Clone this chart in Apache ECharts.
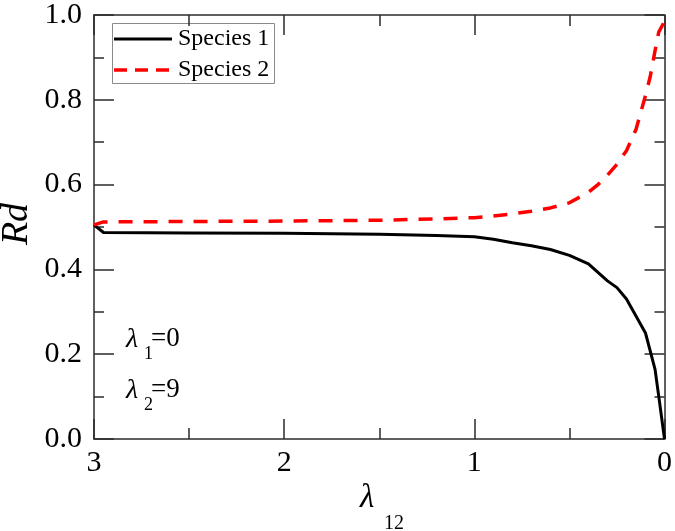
<!DOCTYPE html>
<html>
<head>
<meta charset="utf-8">
<script src="https://cdn.jsdelivr.net/npm/echarts@6/dist/echarts.min.js"></script>
<style>html,body{margin:0;padding:0;background:#fff}#c{width:675px;height:531px}</style>
</head>
<body>
<div id="c"></div>
<script>
var seriesNames = ['Species 1', 'Species 2'];
var s1X = [3.0, 2.95, 2.5, 2.0, 1.5, 1.2, 1.0, 0.9, 0.8, 0.7, 0.6, 0.5, 0.4, 0.3, 0.25, 0.2, 0.15, 0.1, 0.05, 0.03, 0.0];
var s1Y = [0.505, 0.487, 0.486, 0.485, 0.483, 0.480, 0.477, 0.471, 0.463, 0.456, 0.447, 0.433, 0.413, 0.373, 0.357, 0.33, 0.29, 0.25, 0.165, 0.10, 0.0];
var s2X = [3.0, 2.95, 2.5, 2.0, 1.5, 1.2, 1.0, 0.9, 0.8, 0.7, 0.6, 0.5, 0.4, 0.35, 0.3, 0.25, 0.2, 0.15, 0.1, 0.075, 0.05, 0.03, 0.0];
var s2Y = [0.505, 0.512, 0.513, 0.514, 0.516, 0.519, 0.522, 0.526, 0.531, 0.537, 0.545, 0.557, 0.582, 0.600, 0.622, 0.648, 0.68, 0.73, 0.81, 0.855, 0.915, 0.96, 0.985];
var xTicks = ['0', '1', '2', '3'];
var yTicks = ['0.0', '0.2', '0.4', '0.6', '0.8', '1.0'];

function zip(xs, ys) { return xs.map(function (x, i) { return [x, ys[i]]; }); }

var FONT = 'Liberation Serif';
var AX = '#2b2b2b';
var S1_COLOR = '#000';
var S2_COLOR = '#f00';
var S2_DASH = [14, 11];

function xAxisDef(pos, showLabel) {
  return {
    type: 'value', position: pos, min: 0, max: 3, interval: 1, inverse: true,
    axisLine: { show: true, onZero: false, lineStyle: { color: AX, width: 1.5 } },
    axisTick: { show: true, inside: true, length: 20, lineStyle: { color: AX, width: 1.5 } },
    minorTick: { show: true, splitNumber: 2, length: 11, lineStyle: { color: AX, width: 1.5 } },
    splitLine: { show: false },
    axisLabel: { show: showLabel, margin: 9, fontFamily: FONT, fontSize: 30, color: '#000',
      formatter: function (v) { return xTicks[Math.round(v)]; } }
  };
}
function yAxisDef(pos, showLabel) {
  return {
    type: 'value', position: pos, min: 0, max: 1, interval: 0.2,
    axisLine: { show: true, onZero: false, lineStyle: { color: AX, width: 1.5 } },
    axisTick: { show: true, inside: true, length: 20, lineStyle: { color: AX, width: 1.5 } },
    minorTick: { show: true, splitNumber: 2, length: 10, lineStyle: { color: AX, width: 1.5 } },
    splitLine: { show: false },
    axisLabel: { show: showLabel, margin: 12, fontFamily: FONT, fontSize: 30, color: '#000',
      formatter: function (v) { return yTicks[Math.round(v * 5)]; } }
  };
}

function txt(x, y, s, font) {
  return { type: 'text', x: x, y: y,
    style: { text: s, font: font, fill: '#000', align: 'left', verticalAlign: 'middle' } };
}

var chart = echarts.init(document.getElementById('c'), null, { renderer: 'canvas' });
chart.setOption({
  animation: false,
  backgroundColor: '#fff',
  grid: { left: 94, right: 7, top: 13, bottom: 92, containLabel: false },
  xAxis: [xAxisDef('bottom', true), xAxisDef('top', false)],
  yAxis: [yAxisDef('left', true), yAxisDef('right', false)],
  series: [
    { name: seriesNames[0], type: 'line', xAxisIndex: 0, yAxisIndex: 0, symbol: 'none',
      data: zip(s1X, s1Y), lineStyle: { color: S1_COLOR, width: 3 }, itemStyle: { color: S1_COLOR } },
    { name: seriesNames[1], type: 'line', xAxisIndex: 0, yAxisIndex: 0, symbol: 'none',
      data: zip(s2X, s2Y), lineStyle: { color: S2_COLOR, width: 3.5, type: S2_DASH }, itemStyle: { color: S2_COLOR } }
  ],
  graphic: [
    // legend box
    { type: 'rect', shape: { x: 112.5, y: 23.5, width: 162, height: 60 },
      style: { fill: '#fff', stroke: '#8a8a8a', lineWidth: 1 } },
    { type: 'line', shape: { x1: 114, y1: 39, x2: 172, y2: 39 },
      style: { stroke: S1_COLOR, lineWidth: 3 } },
    txt(178, 39, seriesNames[0], '24px "Liberation Serif"'),
    { type: 'line', shape: { x1: 114, y1: 70, x2: 172, y2: 70 },
      style: { stroke: S2_COLOR, lineWidth: 3.5, lineDash: [13, 8] } },
    txt(178, 70, seriesNames[1], '24px "Liberation Serif"'),
    // axis titles
    { type: 'text', x: 17, y: 224, rotation: Math.PI / 2,
      style: { text: 'Rd', font: 'italic 38px "Liberation Serif"', fill: '#000', align: 'center', verticalAlign: 'middle' } },
    txt(360, 498, 'λ', 'italic 33px "Liberation Serif"'),
    txt(384, 524, '12', '20px "Liberation Serif"'),
    // annotations
    txt(126, 340, 'λ', 'italic 28px "Liberation Serif"'),
    txt(144, 354, '1', '18px "Liberation Serif"'),
    txt(151, 339, '=0', '27px "Liberation Serif"'),
    txt(126, 391, 'λ', 'italic 28px "Liberation Serif"'),
    txt(144, 405, '2', '18px "Liberation Serif"'),
    txt(151, 390, '=9', '27px "Liberation Serif"')
  ]
});
</script>
</body>
</html>
